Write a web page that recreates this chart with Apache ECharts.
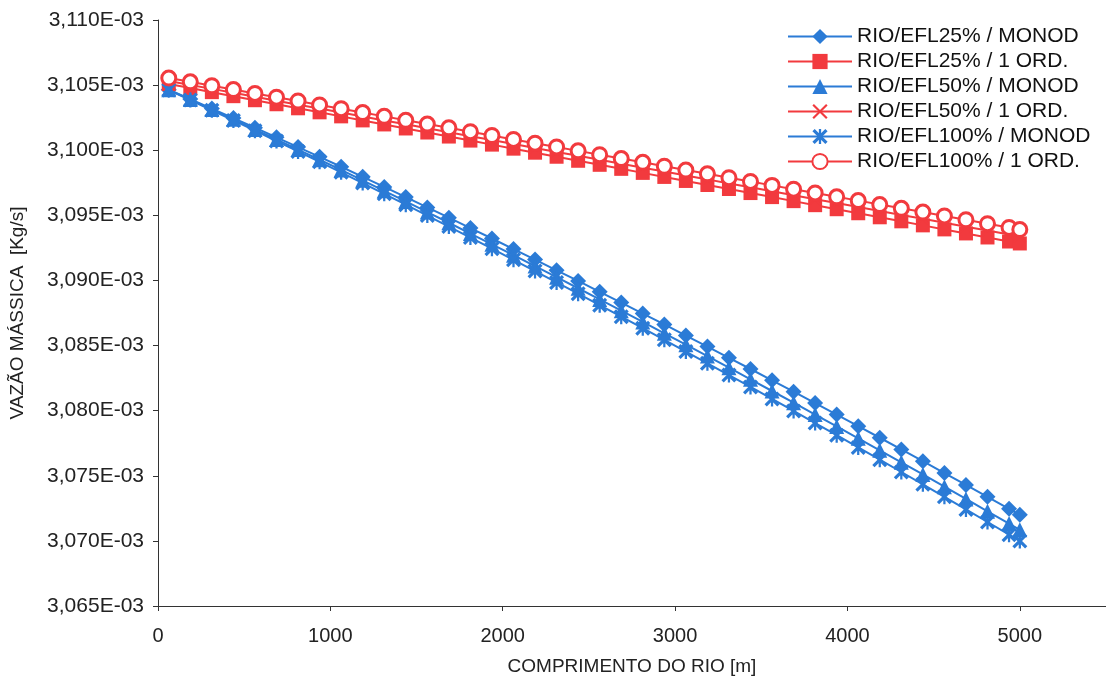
<!DOCTYPE html>
<html>
<head>
<meta charset="utf-8">
<script src="https://cdn.jsdelivr.net/npm/echarts@6/dist/echarts.min.js"></script>
<style>
  html, body { margin: 0; padding: 0; background: #ffffff; }
  #chart { width: 1106px; height: 683px; }
</style>
</head>
<body>
<div id="chart"></div>
<script>
// Distance along the river [m]
const distances = [62.5, 187.5, 312.5, 437.5, 562.5, 687.5, 812.5, 937.5, 1062.5, 1187.5,
  1312.5, 1437.5, 1562.5, 1687.5, 1812.5, 1937.5, 2062.5, 2187.5, 2312.5, 2437.5,
  2562.5, 2687.5, 2812.5, 2937.5, 3062.5, 3187.5, 3312.5, 3437.5, 3562.5, 3687.5,
  3812.5, 3937.5, 4062.5, 4187.5, 4312.5, 4437.5, 4562.5, 4687.5, 4812.5, 4937.5, 5000];

// Mass flow [kg/s]
const efl25Monod = [3.10465e-3, 3.10393e-3, 3.10320e-3, 3.10247e-3, 3.10173e-3, 3.10099e-3, 3.10024e-3, 3.09949e-3, 3.09873e-3, 3.09796e-3,
  3.09718e-3, 3.09640e-3, 3.09561e-3, 3.09482e-3, 3.09402e-3, 3.09322e-3, 3.09241e-3, 3.09160e-3, 3.09078e-3, 3.08996e-3,
  3.08913e-3, 3.08830e-3, 3.08746e-3, 3.08662e-3, 3.08577e-3, 3.08492e-3, 3.08406e-3, 3.08320e-3, 3.08233e-3, 3.08146e-3,
  3.08058e-3, 3.07970e-3, 3.07881e-3, 3.07792e-3, 3.07702e-3, 3.07612e-3, 3.07521e-3, 3.07430e-3, 3.07338e-3, 3.07246e-3, 3.07200e-3];

const efl25Ord1 = [3.10508e-3, 3.10477e-3, 3.10446e-3, 3.10415e-3, 3.10384e-3, 3.10353e-3, 3.10322e-3, 3.10291e-3, 3.10260e-3, 3.10229e-3,
  3.10198e-3, 3.10167e-3, 3.10136e-3, 3.10105e-3, 3.10074e-3, 3.10043e-3, 3.10012e-3, 3.09981e-3, 3.09950e-3, 3.09919e-3,
  3.09888e-3, 3.09857e-3, 3.09826e-3, 3.09795e-3, 3.09764e-3, 3.09733e-3, 3.09702e-3, 3.09671e-3, 3.09640e-3, 3.09609e-3,
  3.09578e-3, 3.09547e-3, 3.09516e-3, 3.09485e-3, 3.09454e-3, 3.09423e-3, 3.09392e-3, 3.09361e-3, 3.09330e-3, 3.09299e-3, 3.09284e-3];

const efl50Monod = [3.10464e-3, 3.10389e-3, 3.10313e-3, 3.10237e-3, 3.10160e-3, 3.10083e-3, 3.10005e-3, 3.09927e-3, 3.09849e-3, 3.09769e-3,
  3.09688e-3, 3.09607e-3, 3.09525e-3, 3.09443e-3, 3.09360e-3, 3.09277e-3, 3.09194e-3, 3.09110e-3, 3.09025e-3, 3.08940e-3,
  3.08854e-3, 3.08768e-3, 3.08681e-3, 3.08594e-3, 3.08507e-3, 3.08419e-3, 3.08330e-3, 3.08241e-3, 3.08151e-3, 3.08061e-3,
  3.07970e-3, 3.07879e-3, 3.07788e-3, 3.07696e-3, 3.07603e-3, 3.07510e-3, 3.07416e-3, 3.07322e-3, 3.07227e-3, 3.07133e-3, 3.07085e-3];

const efl50Ord1 = [3.10531e-3, 3.10501e-3, 3.10471e-3, 3.10441e-3, 3.10410e-3, 3.10380e-3, 3.10350e-3, 3.10320e-3, 3.10289e-3, 3.10259e-3,
  3.10229e-3, 3.10199e-3, 3.10168e-3, 3.10138e-3, 3.10108e-3, 3.10078e-3, 3.10048e-3, 3.10017e-3, 3.09987e-3, 3.09957e-3,
  3.09927e-3, 3.09896e-3, 3.09866e-3, 3.09836e-3, 3.09806e-3, 3.09776e-3, 3.09745e-3, 3.09715e-3, 3.09685e-3, 3.09655e-3,
  3.09624e-3, 3.09594e-3, 3.09564e-3, 3.09534e-3, 3.09503e-3, 3.09473e-3, 3.09443e-3, 3.09413e-3, 3.09383e-3, 3.09352e-3, 3.09337e-3];

const efl100Monod = [3.10462e-3, 3.10385e-3, 3.10307e-3, 3.10229e-3, 3.10150e-3, 3.10071e-3, 3.09991e-3, 3.09911e-3, 3.09830e-3, 3.09748e-3,
  3.09665e-3, 3.09582e-3, 3.09498e-3, 3.09414e-3, 3.09329e-3, 3.09244e-3, 3.09158e-3, 3.09072e-3, 3.08985e-3, 3.08898e-3,
  3.08810e-3, 3.08722e-3, 3.08633e-3, 3.08544e-3, 3.08454e-3, 3.08364e-3, 3.08273e-3, 3.08182e-3, 3.08090e-3, 3.07998e-3,
  3.07905e-3, 3.07812e-3, 3.07718e-3, 3.07624e-3, 3.07529e-3, 3.07434e-3, 3.07338e-3, 3.07242e-3, 3.07145e-3, 3.07048e-3, 3.07000e-3];

const efl100Ord1 = [3.10554e-3, 3.10525e-3, 3.10495e-3, 3.10466e-3, 3.10436e-3, 3.10407e-3, 3.10378e-3, 3.10348e-3, 3.10319e-3, 3.10289e-3,
  3.10260e-3, 3.10230e-3, 3.10201e-3, 3.10172e-3, 3.10142e-3, 3.10113e-3, 3.10083e-3, 3.10054e-3, 3.10025e-3, 3.09995e-3,
  3.09966e-3, 3.09936e-3, 3.09907e-3, 3.09877e-3, 3.09848e-3, 3.09819e-3, 3.09789e-3, 3.09760e-3, 3.09730e-3, 3.09701e-3,
  3.09672e-3, 3.09642e-3, 3.09613e-3, 3.09583e-3, 3.09554e-3, 3.09525e-3, 3.09495e-3, 3.09466e-3, 3.09436e-3, 3.09407e-3, 3.09391e-3];

const seriesNames = [
  'RIO/EFL25% / MONOD',
  'RIO/EFL25% / 1 ORD.',
  'RIO/EFL50% / MONOD',
  'RIO/EFL50% / 1 ORD.',
  'RIO/EFL100% / MONOD',
  'RIO/EFL100% / 1 ORD.'
];

const BLUE = '#2b7bd6';
const RED = '#f23a3e';
const FONT = '"Liberation Sans", Arial, sans-serif';

// Marker outlines
const CROSS = 'path://M0,2 L2,0 L10,8 L18,0 L20,2 L12,10 L20,18 L18,20 L10,12 L2,20 L0,18 L8,10 Z';
const STAR = 'path://M0,3 L3,0 L10,7 L17,0 L20,3 L13,10 L20,17 L17,20 L10,13 L3,20 L0,17 L7,10 Z M8.5,0 L11.5,0 L11.5,20 L8.5,20 Z';

const pairs = vals => distances.map((d, i) => [d, vals[i]]);

function lineSeries(name, vals, color, symbol, size, extra) {
  return Object.assign({
    name: name,
    type: 'line',
    data: pairs(vals),
    symbol: symbol,
    symbolSize: size,
    showAllSymbol: true,
    lineStyle: { color: color, width: 2 },
    itemStyle: { color: color },
    emphasis: { disabled: true },
    animation: false
  }, extra || {});
}

const chart = echarts.init(document.getElementById('chart'), null, { renderer: 'canvas' });

chart.setOption({
  backgroundColor: '#ffffff',
  animation: false,
  grid: { left: 157, top: 20, right: 0, bottom: 77, containLabel: false },
  legend: {
    orient: 'vertical',
    left: 782,
    top: 21,
    itemWidth: 64,
    itemHeight: 19,
    itemGap: 4,
    textStyle: { fontFamily: FONT, fontSize: 21, color: '#111' },
    data: seriesNames
  },
  xAxis: {
    type: 'value',
    min: 0,
    max: 5500,
    interval: 1000,
    name: 'COMPRIMENTO DO RIO [m]',
    nameLocation: 'middle',
    nameGap: 51,
    nameTextStyle: { fontFamily: FONT, fontSize: 19, color: '#222' },
    axisLine: { lineStyle: { color: '#333', width: 1 } },
    axisTick: { show: true, length: 5, lineStyle: { color: '#333' } },
    axisLabel: {
      fontFamily: FONT, fontSize: 20, color: '#222', margin: 20, showMaxLabel: false,
      formatter: v => String(v)
    },
    splitLine: { show: false }
  },
  yAxis: {
    type: 'value',
    min: 3.065e-3,
    max: 3.110e-3,
    interval: 0.005e-3,
    name: 'VAZÃO MÁSSICA  [Kg/s]',
    nameLocation: 'middle',
    nameGap: 131,
    nameTextStyle: { fontFamily: FONT, fontSize: 19, color: '#222' },
    axisLine: { show: true, lineStyle: { color: '#333', width: 1 } },
    axisTick: { show: true, length: 5, lineStyle: { color: '#333' } },
    axisLabel: {
      fontFamily: FONT, fontSize: 21, color: '#222', margin: 14,
      formatter: v => (v * 1000).toFixed(3).replace('.', ',') + 'E-03'
    },
    splitLine: { show: false }
  },
  series: [
    lineSeries(seriesNames[0], efl25Monod, BLUE, 'diamond', 16),
    lineSeries(seriesNames[1], efl25Ord1, RED, 'rect', 14),
    lineSeries(seriesNames[2], efl50Monod, BLUE, 'triangle', 15),
    lineSeries(seriesNames[3], efl50Ord1, RED, CROSS, 13),
    lineSeries(seriesNames[4], efl100Monod, BLUE, STAR, 15),
    lineSeries(seriesNames[5], efl100Ord1, RED, 'circle', 14, {
      itemStyle: { color: '#ffffff', borderColor: RED, borderWidth: 3 }
    })
  ]
});
</script>
</body>
</html>
